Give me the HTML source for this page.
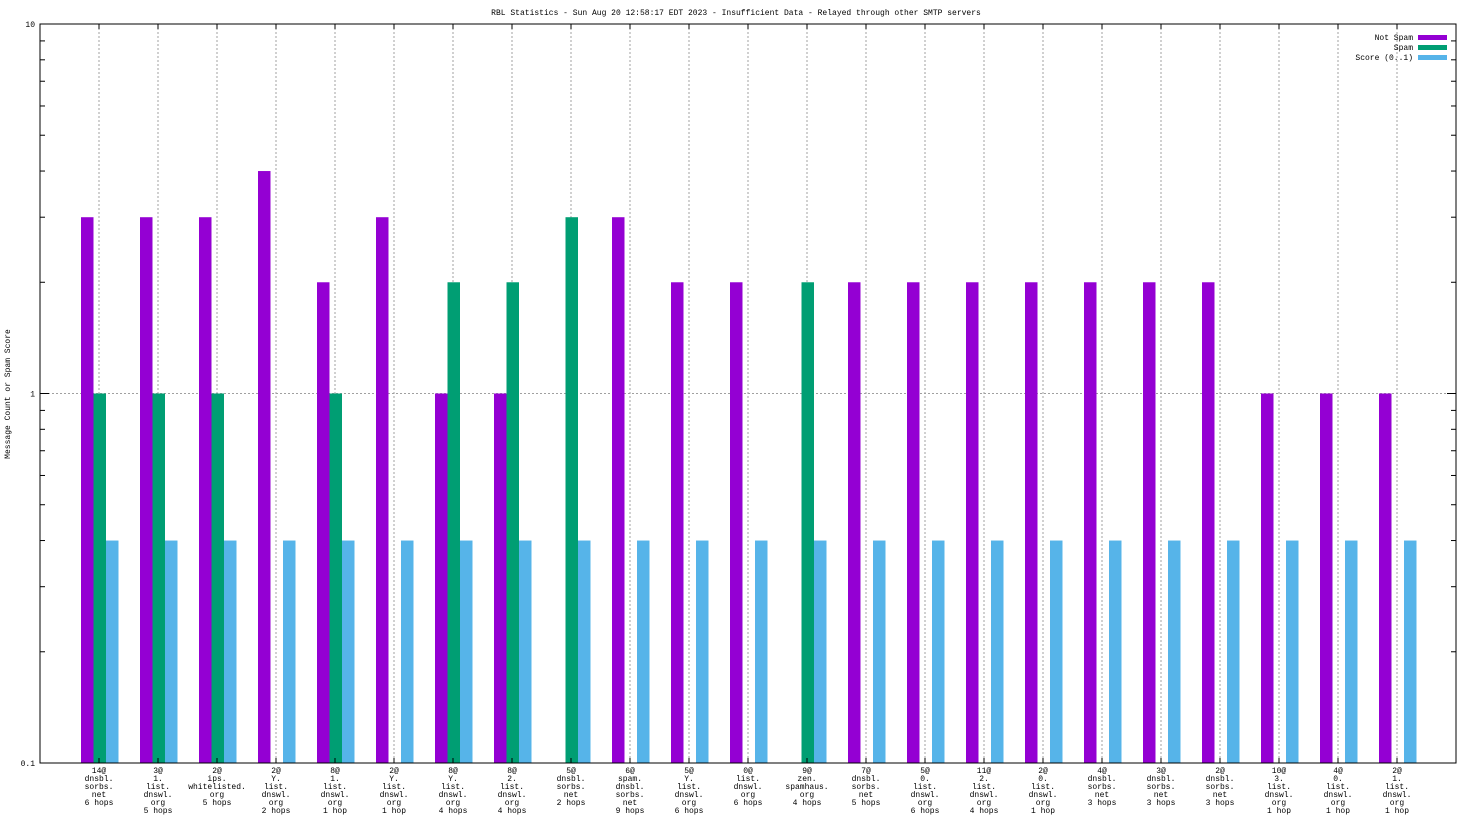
<!DOCTYPE html>
<html><head><meta charset="utf-8"><style>
html,body{margin:0;padding:0;background:#fff;}
svg text{font-family:"Liberation Mono",monospace;font-size:8px;fill:#000;}
</style></head><body>
<svg id="chart" width="1472" height="828" xmlns="http://www.w3.org/2000/svg">
<rect x="0" y="0" width="1472" height="828" fill="#fff"/>
<text x="736" y="15" text-anchor="middle">RBL Statistics - Sun Aug 20 12:58:17 EDT 2023 - Insufficient Data - Relayed through other SMTP servers</text>
<text transform="translate(10,394) rotate(-90)" text-anchor="middle">Message Count or Spam Score</text>
<g id="grid"></g><g id="bars"></g><g id="axes"></g><g id="labels"></g>
<g>
<text x="1413" y="40" text-anchor="end">Not Spam</text>
<rect x="1418" y="35" width="29" height="5" fill="#9400d3"/>
<text x="1413" y="50" text-anchor="end">Spam</text>
<rect x="1418" y="45" width="29" height="5" fill="#009e73"/>
<text x="1413" y="60" text-anchor="end">Score (0..1)</text>
<rect x="1418" y="55" width="29" height="5" fill="#56b4e9"/>
</g>
</svg>
<script>
const categories=[
["14@","dnsbl.","sorbs.","net","6 hops"],["3@","1.","list.","dnswl.","org","5 hops"],["2@","ips.","whitelisted.","org","5 hops"],
["2@","Y.","list.","dnswl.","org","2 hops"],["8@","1.","list.","dnswl.","org","1 hop"],["2@","Y.","list.","dnswl.","org","1 hop"],
["8@","Y.","list.","dnswl.","org","4 hops"],["8@","2.","list.","dnswl.","org","4 hops"],["5@","dnsbl.","sorbs.","net","2 hops"],
["6@","spam.","dnsbl.","sorbs.","net","9 hops"],["5@","Y.","list.","dnswl.","org","6 hops"],["0@","list.","dnswl.","org","6 hops"],
["9@","zen.","spamhaus.","org","4 hops"],["7@","dnsbl.","sorbs.","net","5 hops"],["5@","0.","list.","dnswl.","org","6 hops"],
["11@","2.","list.","dnswl.","org","4 hops"],["2@","0.","list.","dnswl.","org","1 hop"],["4@","dnsbl.","sorbs.","net","3 hops"],
["3@","dnsbl.","sorbs.","net","3 hops"],["2@","dnsbl.","sorbs.","net","3 hops"],["10@","3.","list.","dnswl.","org","1 hop"],
["4@","0.","list.","dnswl.","org","1 hop"],["2@","1.","list.","dnswl.","org","1 hop"]];
const notSpam=[3,3,3,4,2,3,1,1,0,3,2,2,0,2,2,2,2,2,2,2,1,1,1];
const spam=[1,1,1,0,1,0,2,2,3,0,0,0,2,0,0,0,0,0,0,0,0,0,0];
const score=[0.4,0.4,0.4,0.4,0.4,0.4,0.4,0.4,0.4,0.4,0.4,0.4,0.4,0.4,0.4,0.4,0.4,0.4,0.4,0.4,0.4,0.4,0.4];
const yTicks=["0.1","1","10"];
const L=40,R=1456,T=24,B=763;
const NS="http://www.w3.org/2000/svg";
function xs(i){return L+(i+1)*(R-L)/24;}
function ys(v){return B-(Math.log10(v)+1)/2*(B-T);}
function mk(tag,attrs,parent){const e=document.createElementNS(NS,tag);for(const k in attrs)e.setAttribute(k,attrs[k]);parent.appendChild(e);return e;}
const grid=document.getElementById('grid'),bars=document.getElementById('bars'),axes=document.getElementById('axes'),labels=document.getElementById('labels');
mk('line',{x1:L,x2:R,y1:ys(1),y2:ys(1),stroke:'#a0a0a0','stroke-dasharray':'2,2'},grid);
const series=[[notSpam,'#9400d3',-18,'not-spam'],[spam,'#009e73',-5.5,'spam'],[score,'#56b4e9',7,'score']];
categories.forEach((c,i)=>{
  const x=xs(i);
  const g=mk('line',{x1:x,x2:x,y1:T,y2:B,stroke:'#a0a0a0','stroke-dasharray':'2,2'},grid);
  
  
  mk('line',{x1:x,x2:x,y1:T,y2:T+5,stroke:'#000'},axes);
  mk('line',{x1:x,x2:x,y1:B,y2:B-5,stroke:'#000'},axes);
  series.forEach(s=>{
    const v=s[0][i];
    if(v>0){
      const y=ys(v);
      const r=mk('rect',{x:x+s[2],y:y,width:12.5,height:B-y,fill:s[1]},bars);
      
      
    }
  });
  const t=mk('text',{x:x,y:773,'text-anchor':'middle'},labels);
  
  
  c.forEach((line,j)=>{const ts=mk('tspan',{x:x,y:773+j*8},t);ts.textContent=line;});
});
mk('rect',{x:L,y:T,width:R-L,height:B-T,fill:'none',stroke:'#000'},axes);
yTicks.forEach(s=>{
  const v=parseFloat(s),y=ys(v);
  mk('line',{x1:L,x2:L+9,y1:y,y2:y,stroke:'#000'},axes);
  mk('line',{x1:R,x2:R-9,y1:y,y2:y,stroke:'#000'},axes);
  const t=mk('text',{x:L-5,y:y+3,'text-anchor':'end'},labels);
  
  
  t.textContent=s;
});
[0.1,1].forEach(d=>{for(let m=2;m<=9;m++){const y=ys(d*m);
  mk('line',{x1:L,x2:L+5,y1:y,y2:y,stroke:'#000'},axes);
  mk('line',{x1:R,x2:R-5,y1:y,y2:y,stroke:'#000'},axes);}});
</script>
</body></html>
